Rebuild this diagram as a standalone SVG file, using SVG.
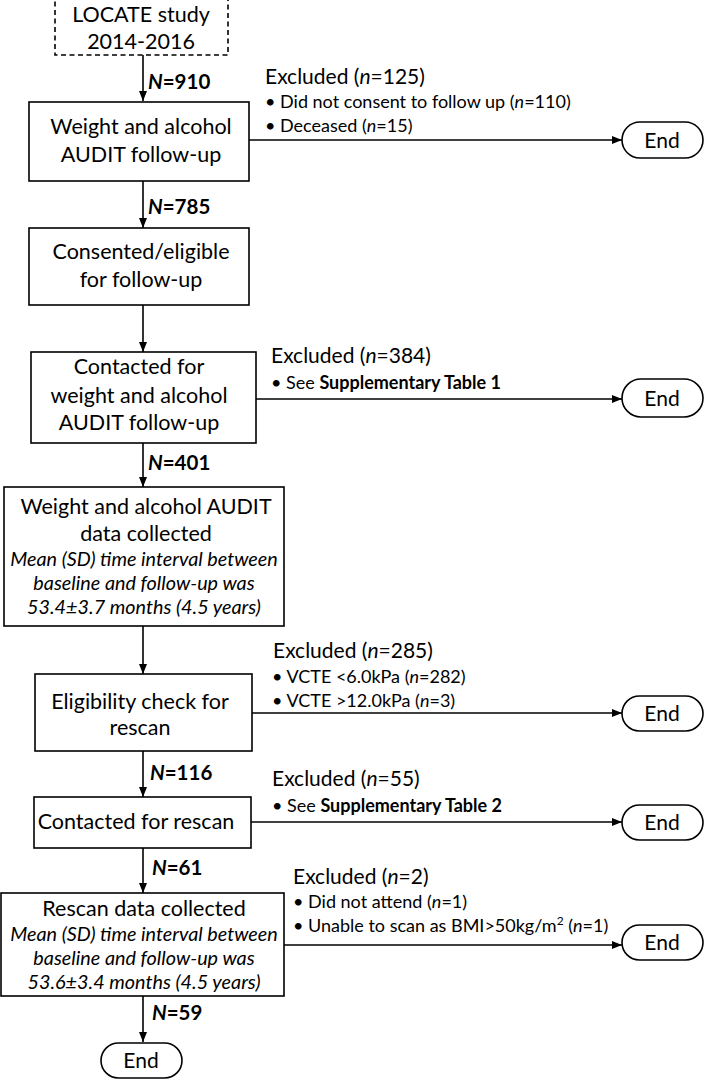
<svg xmlns="http://www.w3.org/2000/svg" width="707" height="1080" viewBox="0 0 707 1080">
<defs>
<marker id="ah" markerWidth="10" markerHeight="8" refX="10" refY="4" orient="auto" markerUnits="userSpaceOnUse">
<path d="M0,0 L10,4 L0,8 z" fill="#000"/>
</marker>
<style>
.box{fill:#fff;stroke:#000;stroke-width:1.6}
.dash{fill:#fff;stroke:#000;stroke-width:1.6;stroke-dasharray:5,3.5}
.pill{fill:#fff;stroke:#000;stroke-width:1.6}
.ln{fill:none;stroke:#000;stroke-width:1.6;marker-end:url(#ah)}
text{font-family:Lato,"Liberation Sans",sans-serif;fill:#000}
.t{font-size:21.5px;text-anchor:middle}
.ti{font-size:19.8px;text-anchor:middle;font-style:italic}
.nl{font-size:20.5px;font-weight:bold}
.ex{font-size:21px}
.bl{font-size:18px}
.end{font-size:21px;text-anchor:middle}
</style>
</defs>
<rect width="707" height="1080" fill="#fff"/>

<g id="connectors">
<line class="ln" x1="143" y1="55" x2="143" y2="101"/>
<line class="ln" x1="143" y1="181" x2="143" y2="228"/>
<line class="ln" x1="143" y1="305" x2="143" y2="352"/>
<line class="ln" x1="143" y1="443" x2="143" y2="487"/>
<line class="ln" x1="143" y1="626" x2="143" y2="674"/>
<line class="ln" x1="143" y1="751" x2="143" y2="797"/>
<line class="ln" x1="143" y1="848" x2="143" y2="893"/>
<line class="ln" x1="143" y1="996" x2="143" y2="1042"/>
<line class="ln" x1="249" y1="140" x2="622" y2="140"/>
<line class="ln" x1="256" y1="399" x2="622" y2="399"/>
<line class="ln" x1="252" y1="713" x2="622" y2="713"/>
<line class="ln" x1="251" y1="822" x2="622" y2="822"/>
<line class="ln" x1="284" y1="945" x2="622" y2="945"/>
</g>

<g id="labels">
<text class="nl" x="148" y="89"><tspan font-style="italic">N</tspan>=910</text>
<text class="nl" x="148" y="214"><tspan font-style="italic">N</tspan>=785</text>
<text class="nl" x="148" y="470"><tspan font-style="italic">N</tspan>=401</text>
<text class="nl" x="150" y="780"><tspan font-style="italic">N</tspan>=116</text>
<text class="nl" x="152" y="875"><tspan font-style="italic">N</tspan>=61</text>
<text class="nl" x="152" y="1020"><tspan font-style="italic">N</tspan>=59</text>

<text class="ex" x="265" y="84">Excluded (<tspan font-style="italic">n</tspan>=125)</text>
<text class="bl" x="265" y="108">• Did not consent to follow up (<tspan font-style="italic">n</tspan>=110)</text>
<text class="bl" x="265" y="132">• Deceased (<tspan font-style="italic">n</tspan>=15)</text>

<text class="ex" x="271" y="363">Excluded (<tspan font-style="italic">n</tspan>=384)</text>
<text class="bl" x="271" y="389">• See <tspan font-weight="bold">Supplementary Table 1</tspan></text>

<text class="ex" x="273" y="658">Excluded (<tspan font-style="italic">n</tspan>=285)</text>
<text class="bl" x="272" y="683">• VCTE &lt;6.0kPa (<tspan font-style="italic">n</tspan>=282)</text>
<text class="bl" x="272" y="707">• VCTE &gt;12.0kPa (<tspan font-style="italic">n</tspan>=3)</text>

<text class="ex" x="272" y="786">Excluded (<tspan font-style="italic">n</tspan>=55)</text>
<text class="bl" x="272" y="812">• See <tspan font-weight="bold">Supplementary Table 2</tspan></text>

<text class="ex" x="293" y="884">Excluded (<tspan font-style="italic">n</tspan>=2)</text>
<text class="bl" x="293" y="908">• Did not attend (<tspan font-style="italic">n</tspan>=1)</text>
<text class="bl" x="293" y="932">• Unable to scan as BMI&gt;50kg/m<tspan font-size="12" dy="-7">2</tspan><tspan dy="7"> (</tspan><tspan font-style="italic">n</tspan>=1)</text>
</g>

<g id="n-locate">
<rect class="dash" x="55" y="-1" width="173" height="56"/>
<text class="t" x="141" y="22">LOCATE study</text>
<text class="t" x="141" y="49">2014-2016</text>
</g>

<g id="n-followup">
<rect class="box" x="29" y="102" width="220" height="79"/>
<text class="t" x="141" y="134">Weight and alcohol</text>
<text class="t" x="141" y="162">AUDIT follow-up</text>
</g>

<g id="n-consented">
<rect class="box" x="29" y="228" width="220" height="77"/>
<text class="t" x="141" y="259">Consented/eligible</text>
<text class="t" x="141" y="287">for follow-up</text>
</g>

<g id="n-contacted">
<rect class="box" x="31" y="352" width="225" height="91"/>
<text class="t" x="139" y="374">Contacted for</text>
<text class="t" x="139" y="403">weight and alcohol</text>
<text class="t" x="139" y="430">AUDIT follow-up</text>
</g>

<g id="n-collected">
<rect class="box" x="4" y="487" width="280" height="139"/>
<text class="t" x="146" y="514">Weight and alcohol AUDIT</text>
<text class="t" x="146" y="541">data collected</text>
<text class="ti" x="144" y="566">Mean (SD) time interval between</text>
<text class="ti" x="144" y="590">baseline and follow-up was</text>
<text class="ti" x="144" y="614">53.4±3.7 months (4.5 years)</text>
</g>

<g id="n-eligibility">
<rect class="box" x="35" y="674" width="217" height="77"/>
<text class="t" x="140" y="709">Eligibility check for</text>
<text class="t" x="140" y="735">rescan</text>
</g>

<g id="n-contacted-rescan">
<rect class="box" x="34" y="797" width="217" height="51"/>
<text class="t" x="136" y="829">Contacted for rescan</text>
</g>

<g id="n-rescan">
<rect class="box" x="1" y="893" width="283" height="103"/>
<text class="t" x="144" y="916">Rescan data collected</text>
<text class="ti" x="144" y="941">Mean (SD) time interval between</text>
<text class="ti" x="144" y="965">baseline and follow-up was</text>
<text class="ti" x="144" y="989">53.6±3.4 months (4.5 years)</text>
</g>

<g id="end1"><rect class="pill" x="622" y="122" width="81" height="36" rx="18"/><text class="end" x="662" y="148">End</text></g>
<g id="end2"><rect class="pill" x="622" y="379" width="81" height="38" rx="19"/><text class="end" x="662" y="406">End</text></g>
<g id="end3"><rect class="pill" x="622" y="696" width="81" height="35" rx="17.5"/><text class="end" x="662" y="721">End</text></g>
<g id="end4"><rect class="pill" x="622" y="805" width="81" height="35" rx="17.5"/><text class="end" x="662" y="830">End</text></g>
<g id="end5"><rect class="pill" x="622" y="925" width="81" height="35" rx="17.5"/><text class="end" x="662" y="950">End</text></g>
<g id="end6"><rect class="pill" x="101" y="1043" width="81" height="35" rx="17.5"/><text class="end" x="141" y="1068">End</text></g>
</svg>
